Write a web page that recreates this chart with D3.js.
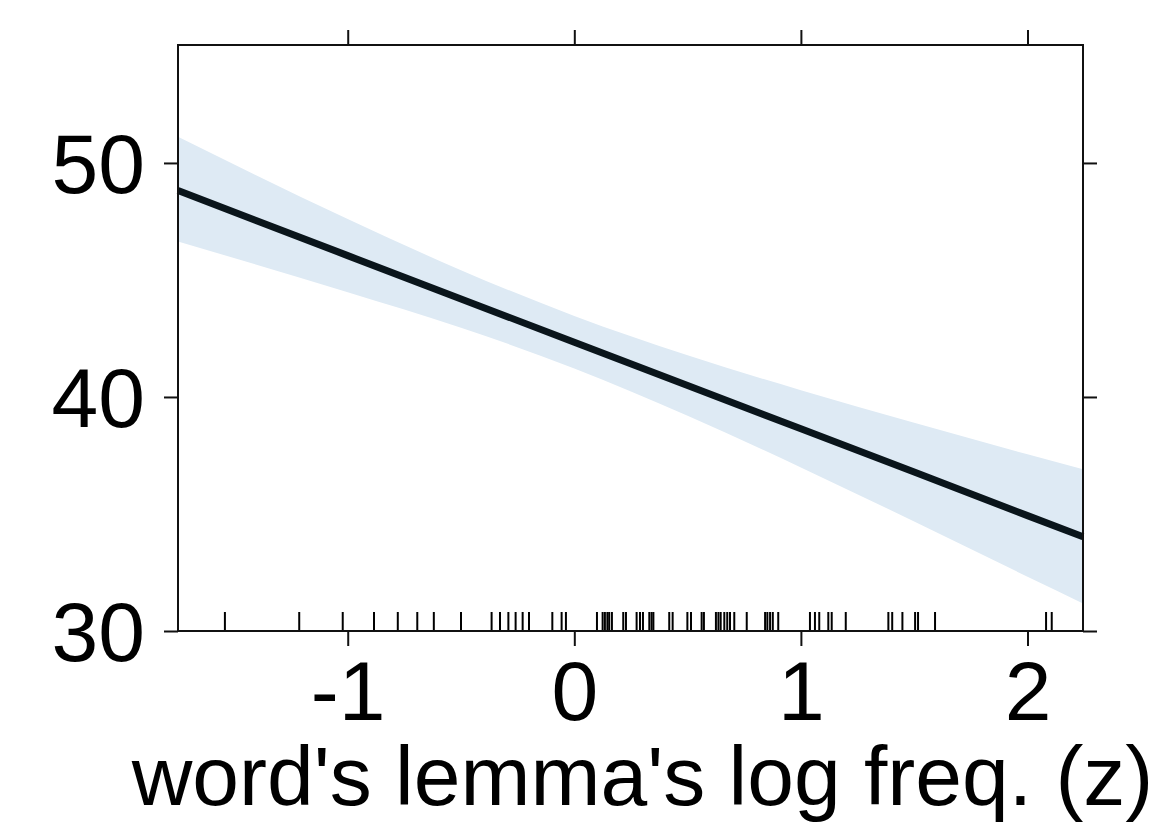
<!DOCTYPE html>
<html>
<head>
<meta charset="utf-8">
<script src="https://cdn.jsdelivr.net/npm/d3@7"></script>
<style>
  body { margin: 0; background: #fff; }
  .chart text { font-family: "Liberation Sans", Arial, sans-serif; fill: #000; }
</style>
</head>
<body>
<svg class="chart" width="1163" height="827"></svg>
<script>
/*global d3*/
// effect estimate
var xGrid  = [-1.749, -1, -0.5, 0, 0.5, 1, 1.5, 2, 2.245];
var fit    = [48.82, 46.04, 44.19, 42.34, 40.49, 38.64, 36.79, 34.93, 34.03];
var lower  = [46.64, 44.48, 42.96, 41.22, 39.20, 36.99, 34.68, 32.32, 31.18];
var upper  = [51.12, 47.60, 45.42, 43.46, 41.78, 40.29, 38.90, 37.55, 36.91];

// rug of observed x values
var rugValues = [-1.542, -1.214, -1.022, -0.884, -0.779, -0.693, -0.620, -0.500,
  -0.365, -0.328, -0.291, -0.259, -0.228, -0.200, -0.097, -0.056, -0.037,
  0.100, 0.125, 0.135, 0.146, 0.154, 0.166, 0.216, 0.228, 0.275, 0.290, 0.303,
  0.331, 0.341, 0.349, 0.419, 0.434, 0.499, 0.515, 0.562, 0.572, 0.625, 0.636,
  0.646, 0.662, 0.675, 0.687, 0.706, 0.761, 0.842, 0.852, 0.864, 0.876, 0.900,
  1.040, 1.062, 1.081, 1.121, 1.136, 1.198, 1.386, 1.403, 1.448, 1.504, 1.517,
  1.592, 2.082, 2.107];

var xTicks = [-1, 0, 1, 2];
var yTicks = [30, 40, 50];
var xTitle = "word's lemma's log freq. (z)";

var svg = d3.select(".chart");
var margin = {top: 45, right: 80, bottom: 196, left: 178};
var width = +svg.attr("width") - margin.left - margin.right;
var height = +svg.attr("height") - margin.top - margin.bottom;

var xScale = d3.scaleLinear().domain([-1.749, 2.245]).range([0, width]);
var yScale = d3.scaleLinear().domain([30, 55.04]).range([height, 0]);

var plainNum = function (d) { return String(d); }; // plain hyphen, like the original

var g = svg.append("g")
    .attr("transform", "translate(" + margin.left + "," + margin.top + ")");

var rows = xGrid.map(function (x, i) {
    return {x: x, fit: fit[i], lo: lower[i], hi: upper[i]};
});

var band = d3.area()
    .curve(d3.curveMonotoneX)
    .x(function (d) { return xScale(d.x); })
    .y0(function (d) { return yScale(d.lo); })
    .y1(function (d) { return yScale(d.hi); });

g.append("path")
    .datum(rows)
    .attr("d", band)
    .attr("fill", "#deeaf4");

g.append("path")
    .datum(rows)
    .attr("d", d3.line()
        .x(function (d) { return xScale(d.x); })
        .y(function (d) { return yScale(d.fit); }))
    .attr("fill", "none")
    .attr("stroke", "#0a151b")
    .attr("stroke-width", 7);

// rug
g.append("g")
    .attr("class", "rug")
    .selectAll("line")
    .data(rugValues)
    .enter().append("line")
        .attr("x1", function (d) { return xScale(d); })
        .attr("x2", function (d) { return xScale(d); })
        .attr("y1", height)
        .attr("y2", height - 19)
        .attr("stroke", "#000")
        .attr("stroke-width", 2);

// axes
function styleAxis(sel) {
    sel.select(".domain").remove();
    sel.selectAll(".tick line").attr("stroke", "#111").attr("stroke-width", 2);
    sel.selectAll("text").style("font-size", "84px").attr("fill", "#000");
}

g.append("g")
    .attr("transform", "translate(0," + height + ")")
    .call(d3.axisBottom(xScale).tickValues(xTicks).tickSize(15).tickPadding(14)
        .tickFormat(plainNum))
    .call(styleAxis)
    .selectAll("text").attr("dy", "0.71em");

g.append("g")
    .call(d3.axisTop(xScale).tickValues(xTicks).tickSize(15).tickFormat(""))
    .call(styleAxis);

g.append("g")
    .call(d3.axisLeft(yScale).tickValues(yTicks).tickSize(14).tickPadding(19)
        .tickFormat(plainNum))
    .call(styleAxis)
    .selectAll("text").attr("dy", "0.35em");

g.append("g")
    .attr("transform", "translate(" + width + ",0)")
    .call(d3.axisRight(yScale).tickValues(yTicks).tickSize(14).tickFormat(""))
    .call(styleAxis);

// frame
g.append("rect")
    .attr("width", width)
    .attr("height", height)
    .attr("fill", "none")
    .attr("stroke", "#111")
    .attr("stroke-width", 2);

g.append("text")
    .attr("x", width / 2 + 12)
    .attr("y", height + 174)
    .attr("text-anchor", "middle")
    .style("font-size", "84px")
    .text(xTitle);
</script>
</body>
</html>
